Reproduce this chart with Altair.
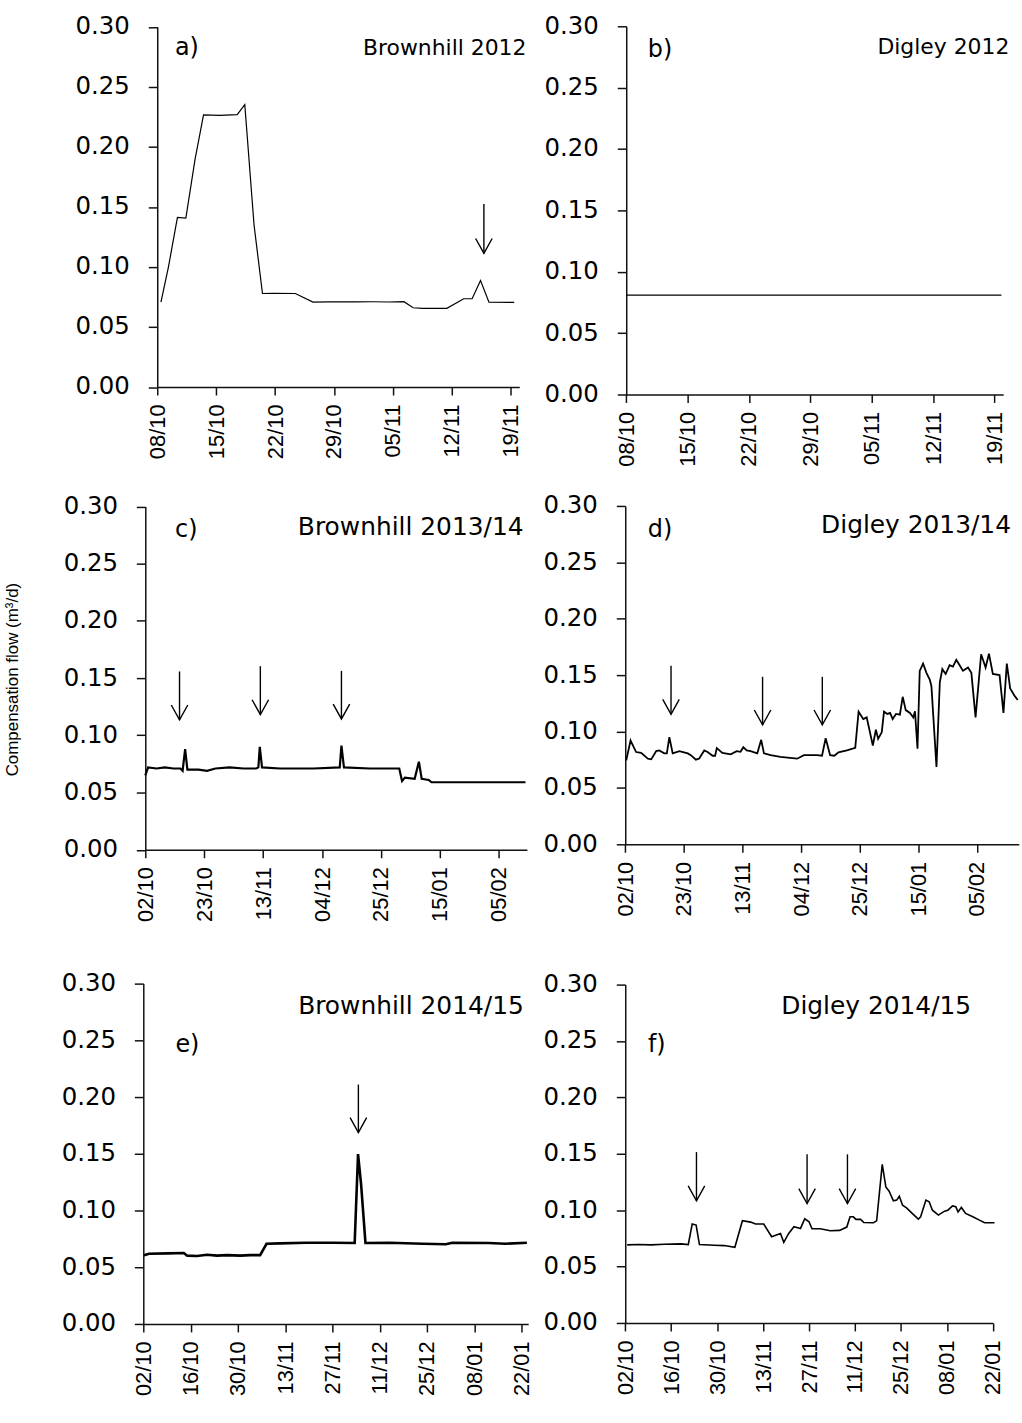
import altair as alt
import pandas as pd

FH = "DejaVu Sans"
FR = "Liberation Sans"

# ---------------- data ----------------
# a) Brownhill 2012 (days after 08/10/2012)
a_start = "2012-10-08"
a_day = [0.44, 1.34, 2.4, 3.4, 4.5, 5.5, 7.4, 9.5, 10.4, 11.5, 12.5, 13.7, 16.4, 18.5, 20.4, 23.5,
         25.5, 27.5, 29.3, 30.4, 31.5, 34.4, 36.4, 37.4, 38.4, 39.4, 42.4]
a_val = [0.0707, 0.1003, 0.1412, 0.1407, 0.190, 0.2266, 0.2263, 0.2268, 0.2352, 0.1349, 0.0779,
         0.0781, 0.0779, 0.0707, 0.0709, 0.0709, 0.0710, 0.0708, 0.0711, 0.0660, 0.0655, 0.0655,
         0.0735, 0.0735, 0.0887, 0.0707, 0.0705]

# b) Digley 2012
b_start = "2012-10-08"
b_day = [0.0, 42.8]
b_val = [0.081, 0.081]

# c) Brownhill 2013/14 (days after 02/10/2013)
c_start = "2013-10-02"
c_day = [0, 1, 4, 7, 10, 12.5, 13.3, 14.2, 15, 19, 22, 25, 30, 35, 39.5, 40.3, 40.8, 41.6, 48, 60,
         69.3, 69.9, 70.8, 80, 90.5, 91.5, 92.5, 96, 97.5, 98.5, 101, 102, 115, 135.5]
c_val = [0.065, 0.072, 0.071, 0.072, 0.071, 0.071, 0.069, 0.088, 0.070, 0.070, 0.069, 0.071, 0.072,
         0.071, 0.071, 0.072, 0.090, 0.072, 0.071, 0.071, 0.072, 0.091, 0.072, 0.071, 0.071, 0.060,
         0.063, 0.062, 0.077, 0.062, 0.061, 0.059, 0.059, 0.059]

# d) Digley 2013/14 (days after 02/10/2013)
d_start = "2013-10-02"
d_day = [0.36, 1.9, 3.9, 5.7, 8.1, 9.3, 11.1, 12.2, 14.0, 14.9, 15.8, 17.0, 19.4, 22.4, 23.5, 25.3,
         26.5, 28.3, 29.5, 31.3, 32.2, 32.8, 34.8, 37.8, 39.9, 41.3, 42.3, 43.5, 44.9, 47.3, 48.7,
         49.7, 52.1, 55.6, 61.6, 64.0, 66.3, 68.7, 70.5, 71.8, 73.4, 74.9, 76.4, 79.4, 82.4, 83.6,
         85.3, 86.5, 88.7, 89.8, 90.6, 91.9, 92.7, 93.9, 94.9, 95.8, 97.0, 98.4, 99.4, 100.5, 102.0,
         103.2, 103.8, 104.7, 105.5, 106.7, 107.9, 109.1, 109.7, 111.5, 112.7, 113.6, 114.8, 116.2,
         117.4, 118.6, 119.8, 121.0, 122.8, 124.0, 125.5, 127.5, 129.1, 130.3, 131.7, 134.1, 135.5,
         136.7, 137.9, 139.4, 140.6]
d_val = [0.0744, 0.092, 0.0818, 0.081, 0.0759, 0.0753, 0.0826, 0.0832, 0.0806, 0.0806, 0.095,
         0.0806, 0.0826, 0.0806, 0.079, 0.075, 0.076, 0.0832, 0.0818, 0.0785, 0.0785, 0.0853,
         0.081, 0.0797, 0.0826, 0.082, 0.0861, 0.0832, 0.0826, 0.0806, 0.0926, 0.0806, 0.079,
         0.0776, 0.0759, 0.079, 0.079, 0.079, 0.0785, 0.0941, 0.079, 0.0785, 0.0815, 0.0832,
         0.0855, 0.1176, 0.111, 0.1125, 0.0876, 0.1017, 0.0935, 0.0994, 0.1176, 0.1156, 0.1165,
         0.111, 0.1156, 0.115, 0.1308, 0.119, 0.1165, 0.1125, 0.118, 0.0847, 0.1538, 0.1603,
         0.152, 0.146, 0.140, 0.0685, 0.1435, 0.1553, 0.151, 0.1588, 0.1575, 0.1635, 0.1588,
         0.1538, 0.1568, 0.152, 0.1126, 0.1685, 0.1568, 0.169, 0.1511, 0.150, 0.1165, 0.1603,
         0.1382, 0.132, 0.128]

# e) Brownhill 2014/15 (days after 02/10/2014)
e_start = "2014-10-02"
e_day = [0.2, 1.7, 7.2, 12.0, 13.0, 15.9, 18.9, 21.8, 24.8, 28.7, 31.6, 34.6, 36.5, 40.5, 48.3,
         56.1, 62.6, 63.6, 64.5, 65.8, 72.9, 82.7, 89.6, 91.5, 102.3, 107.2, 113.6]
e_val = [0.0605, 0.0619, 0.0622, 0.0625, 0.0602, 0.0599, 0.061, 0.0602, 0.0607, 0.0602, 0.0607,
         0.0607, 0.0707, 0.0710, 0.0716, 0.0716, 0.0713, 0.1497, 0.1233, 0.0713, 0.0716, 0.0707,
         0.0702, 0.0716, 0.0713, 0.0707, 0.0716]

# f) Digley 2014/15 (days after 02/10/2014)
f_start = "2014-10-02"
f_day = [0.6, 3.9, 7.9, 11.9, 17.0, 19.2, 20.4, 21.6, 22.6, 27.1, 30.2, 33.4, 35.7, 38.2, 39.7,
         42.2, 44.6, 47.3, 48.3, 49.8, 51.4, 53.4, 54.7, 56.0, 56.9, 59.4, 62.5, 65.3, 67.5, 68.5,
         69.5, 70.3, 71.7, 72.7, 75.6, 76.6, 78.3, 79.4, 80.4, 81.7, 82.7, 83.5, 84.5, 85.7, 87.5,
         89.3, 90.0, 91.6, 92.6, 93.6, 95.4, 97.3, 98.3, 99.7, 100.7, 101.4, 102.4, 103.7, 105.9,
         107.9, 109.5, 112.5]
f_val = [0.0692, 0.0695, 0.0692, 0.0698, 0.0701, 0.0695, 0.0877, 0.0868, 0.0695, 0.0689, 0.0686,
         0.0671, 0.0906, 0.0894, 0.0877, 0.0877, 0.0765, 0.0794, 0.0715, 0.0794, 0.0853, 0.0838,
         0.0924, 0.0897, 0.0835, 0.0835, 0.0818, 0.0821, 0.0850, 0.0941, 0.0941, 0.0918, 0.0918,
         0.0891, 0.0888, 0.0906, 0.1406, 0.1206, 0.1168, 0.1083, 0.1089, 0.1124, 0.1044, 0.102,
         0.097, 0.092, 0.0941, 0.1089, 0.1074, 0.1000, 0.0956, 0.0991, 0.1000, 0.1038, 0.1030,
         0.0985, 0.1024, 0.0971, 0.0941, 0.0912, 0.0888, 0.0888]

# arrows (day, top value, tip value)
a_arrow_day = [38.8]
a_arrow_top = [0.1525]
a_arrow_tip = [0.1113]
c_arrow_day = [12.2, 41.0, 69.9]
c_arrow_top = [0.1558, 0.1604, 0.1563]
c_arrow_tip = [0.1135, 0.1181, 0.1143]
d_arrow_day = [16.4, 49.2, 70.6]
d_arrow_top = [0.1582, 0.1485, 0.1485]
d_arrow_tip = [0.1153, 0.1059, 0.1059]
e_arrow_day = [63.7]
e_arrow_top = [0.211]
e_arrow_tip = [0.1687]
f_arrow_day = [21.7, 55.4, 67.7]
f_arrow_top = [0.1515, 0.1495, 0.1495]
f_arrow_tip = [0.1083, 0.1059, 0.1059]

# tick labels
ticks_12 = ["2012-10-08", "2012-10-15", "2012-10-22", "2012-10-29", "2012-11-05", "2012-11-12",
            "2012-11-19"]
ticks_13 = ["2013-10-02", "2013-10-23", "2013-11-13", "2013-12-04", "2013-12-25", "2014-01-15",
            "2014-02-05"]
ticks_14 = ["2014-10-02", "2014-10-16", "2014-10-30", "2014-11-13", "2014-11-27", "2014-12-11",
            "2014-12-25", "2015-01-08", "2015-01-22"]
y_ticks = [0.0, 0.05, 0.10, 0.15, 0.20, 0.25, 0.30]

# panel labels: (letter, day, value, name, day, value, name font size)
labels = {
    "a": ("a)", 2.1, 0.2827, "Brownhill 2012", 43.85, 0.2827, 22),
    "b": ("b)", 2.46, 0.2805, "Digley 2012", 43.7, 0.283, 22),
    "c": ("c)", 10.6, 0.2796, "Brownhill 2013/14", 134.8, 0.2822, 25),
    "d": ("d)", 8.1, 0.2788, "Digley 2013/14", 138.2, 0.283, 25),
    "e": ("e)", 9.5, 0.2459, "Brownhill 2014/15", 112.7, 0.2801, 25),
    "f": ("f)", 6.9, 0.2468, "Digley 2014/15", 105.4, 0.2812, 25),
}


def dt(ts):
    ts = pd.Timestamp(ts)
    return alt.DateTime(year=ts.year, month=ts.month, date=ts.day, hours=ts.hour, minutes=ts.minute)


def panel(key, start, days, vals, lw, dom_end, ticks, xr, yr, w, h, yoff, xoff,
          arr_day, arr_top, arr_tip, ytitle=False):
    t0 = pd.Timestamp(start)

    def conv(ds):
        return t0 + pd.to_timedelta(pd.Series(ds, dtype=float), unit="D")

    line_df = pd.DataFrame({"t": conv(days), "v": vals})
    xs = alt.Scale(domain=[dt(t0), dt(dom_end)], range=xr)
    ys = alt.Scale(domain=[0, 0.3], range=yr, nice=False, zero=True)
    xaxis = alt.Axis(values=[dt(s) for s in ticks], format="%d/%m", labelAngle=270,
                     labelFont=FR, labelFontSize=22, labelColor="black", labelPadding=9,
                     labelOverlap=False, labelFlush=False, labelBound=False,
                     tickSize=8, tickWidth=1.5, tickColor="#111", domainColor="#111",
                     domainWidth=1.5, grid=False, offset=xoff)
    ykw = dict(values=y_ticks, format=".2f", labelFont=FH, labelFontSize=24.5, labelColor="black",
               labelPadding=19, labelOverlap=False, labelFlush=False, labelBound=False,
               tickSize=9, tickWidth=1.5, tickColor="#111", domainColor="#111", domainWidth=1.5,
               grid=False, offset=yoff)
    if ytitle:
        ykw.update(titleFont=FR, titleFontSize=17, titleFontWeight="normal", titleColor="black",
                   titleAngle=270, titleAlign="center", titleBaseline="middle",
                   titleX=-133, titleY=174)
        yt = "Compensation flow (m³/d)"
    else:
        yt = None
    X = alt.X("t:T", scale=xs, axis=xaxis, title=None)
    Y = alt.Y("v:Q", scale=ys, axis=alt.Axis(**ykw), title=yt)

    layers = [alt.Chart(line_df).mark_line(color="black", strokeWidth=lw).encode(x=X, y=Y)]

    if arr_day:
        arr_df = pd.DataFrame({"t": conv(arr_day), "v": arr_top, "v2": arr_tip})
        head_df = pd.DataFrame({"t": conv(arr_day), "v": arr_tip})
        layers.append(alt.Chart(arr_df).mark_rule(color="black", strokeWidth=1.4)
                      .encode(x=X, y=Y, y2="v2:Q"))
        layers.append(alt.Chart(head_df).mark_point(shape="M-1,-1.8L0,0L1,-1.8", filled=False,
                                                    size=276, strokeWidth=1.4, color="black",
                                                    opacity=1).encode(x=X, y=Y))

    let, lday, lval, name, nday, nval, nfs = labels[key]
    lab_df = pd.DataFrame({"t": conv([lday]), "v": [lval], "txt": [let]})
    name_df = pd.DataFrame({"t": conv([nday]), "v": [nval], "txt": [name]})
    layers.append(alt.Chart(lab_df).mark_text(align="left", baseline="middle", font=FH,
                                              fontSize=24, color="black")
                  .encode(x=X, y=Y, text="txt:N"))
    layers.append(alt.Chart(name_df).mark_text(align="right", baseline="middle", font=FH,
                                               fontSize=nfs, color="black")
                  .encode(x=X, y=Y, text="txt:N"))
    return alt.layer(*layers).properties(width=w, height=h)


WL, WR = 387, 396
pa = panel("a", a_start, a_day, a_val, 1.2, "2012-11-20", ticks_12, [14, 377.8], [362.5, 0.5],
           WL, 370, -14, -7.5, a_arrow_day, a_arrow_top, a_arrow_tip)
pb = panel("b", b_start, b_day, b_val, 1.2, "2012-11-20", ticks_12, [1.3, 380.1], [370, 0],
           WR, 370, -1.3, 0, [], [], [])
pc = panel("c", c_start, c_day, c_val, 2.2, "2014-02-15", ticks_13, [2, 385.5], [345.5, 0.5],
           WL, 368, -2, -22.5, c_arrow_day, c_arrow_top, c_arrow_tip, ytitle=True)
pd_ = panel("d", d_start, d_day, d_val, 1.8, "2014-02-20", ticks_13, [0.3, 395.8], [340, 0],
            WR, 368, -0.3, -28, d_arrow_day, d_arrow_top, d_arrow_tip)
pe = panel("e", e_start, e_day, e_val, 2.6, "2015-01-24", ticks_14, [0, 386.8], [342, 0],
           WL, 342, 0, 0, e_arrow_day, e_arrow_top, e_arrow_tip)
pf = panel("f", f_start, f_day, f_val, 1.6, "2015-01-22", ticks_14, [0.3, 369.7], [341, 1],
           WR, 342, -0.3, -1, f_arrow_day, f_arrow_top, f_arrow_tip)

chart = alt.concat(pa, pb, pc, pd_, pe, pf, columns=2, spacing={"row": 112, "column": 97},
                   bounds="flush", align="each").properties(
    padding={"left": 4, "top": 10, "right": 0, "bottom": 0},
    background="white",
).configure_view(stroke=None)

chart.save("out.html", embed_options={"renderer": "svg", "actions": False})
